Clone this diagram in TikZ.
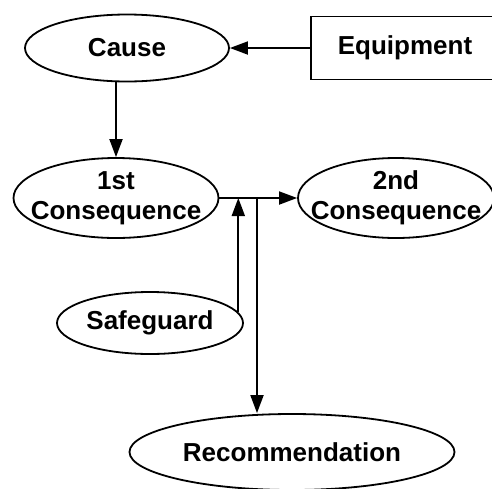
\documentclass[tikz,border=0pt]{standalone}
\usepackage{fontspec}
\setmainfont{Liberation Sans}
\usetikzlibrary{arrows.meta,shapes.geometric}

\begin{document}
\begin{tikzpicture}[x=1pt, y=-1pt,
  >={Triangle[length=18pt,width=13pt]}, line width=1.8pt,
  ell/.style={draw, ellipse, inner sep=0pt, align=center,
              font=\bfseries\fontsize{26}{30}\selectfont},
  box/.style={draw, rectangle, inner sep=0pt, align=center,
              font=\bfseries\fontsize{26}{30}\selectfont}]
\useasboundingbox (0,0) rectangle (492,488);
\clip (0,0) rectangle (492,488);
\node[ell, minimum width=204pt, minimum height=67pt] (cause) at (127,48) {Cause};
\node[box, minimum width=188pt, minimum height=63pt] (equip) at (405,48) {Equipment};
\node[ell, minimum width=205pt, minimum height=80pt] (cons1) at (116,198)
  {1st\\\makebox[0pt]{Consequence}};
\node[ell, minimum width=196pt, minimum height=80pt] (cons2) at (396,198)
  {2nd\\\makebox[0pt]{Consequence}};
\node[ell, minimum width=186pt, minimum height=62pt] (safe) at (150,323) {Safeguard};
\node[ell, minimum width=325pt, minimum height=76pt] (rec) at (292,452) {Recommendation};
\coordinate (jsafe) at (237,198);
\coordinate (jrec) at (257,198);
\draw[->] (equip.west) -- (cause.east);
\draw[->] (cause.south -| cons1.north) -- (cons1.north);
\draw[->] (cons1.east) -- (cons2.west);
\draw[->] (safe.7) -- (safe.7 |- jsafe);
\draw[->] (jrec) -- (jrec |- rec.north);
\end{tikzpicture}
\end{document}
